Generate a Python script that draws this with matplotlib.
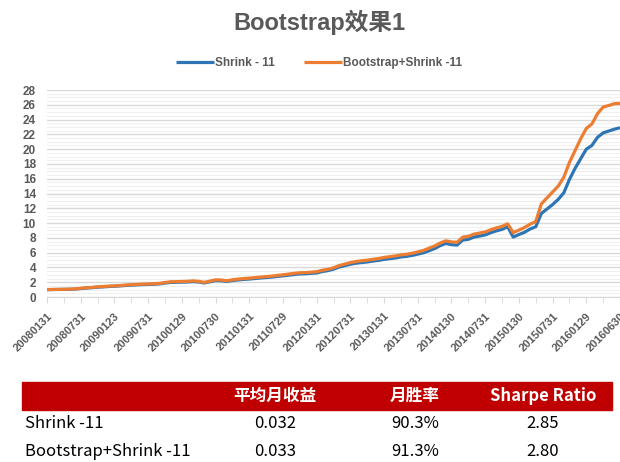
import matplotlib
matplotlib.use("Agg")
import matplotlib.pyplot as plt
from matplotlib.patches import Rectangle
from matplotlib.ticker import MultipleLocator

plt.rcParams['font.family'] = ['Liberation Sans', 'Noto Sans CJK SC', 'DejaVu Sans']

# month-end series, Jan 2008 .. Jun 2016 (103 points)
shrink = [1.00, 1.01, 1.02, 1.03, 1.04, 1.07, 1.14, 1.21, 1.26, 1.33,
          1.37, 1.42, 1.45, 1.50, 1.56, 1.60, 1.64, 1.68, 1.70, 1.73,
          1.77, 1.88, 1.97, 1.99, 2.01, 2.03, 2.08, 2.03, 1.90, 2.06,
          2.22, 2.20, 2.10, 2.22, 2.31, 2.38, 2.43, 2.50, 2.57, 2.63,
          2.69, 2.78, 2.86, 2.95, 3.04, 3.12, 3.14, 3.20, 3.25, 3.44,
          3.57, 3.76, 4.05, 4.24, 4.43, 4.57, 4.66, 4.74, 4.86, 4.95,
          5.09, 5.18, 5.28, 5.42, 5.50, 5.63, 5.80, 5.98, 6.26, 6.55,
          6.95, 7.25, 7.08, 7.02, 7.70, 7.80, 8.10, 8.25, 8.40, 8.70,
          8.95, 9.15, 9.50, 8.10, 8.45, 8.75, 9.20, 9.50, 11.30, 11.90,
          12.50, 13.20, 14.10, 15.90, 17.40, 18.70, 20.00, 20.50, 21.60, 22.20,
          22.45, 22.70, 22.90]
boot = [1.00, 1.02, 1.03, 1.05, 1.06, 1.10, 1.18, 1.25, 1.30, 1.38,
        1.42, 1.47, 1.50, 1.55, 1.62, 1.66, 1.70, 1.74, 1.76, 1.80,
        1.84, 1.96, 2.06, 2.08, 2.10, 2.12, 2.18, 2.12, 1.98, 2.15,
        2.32, 2.30, 2.20, 2.32, 2.42, 2.50, 2.55, 2.62, 2.70, 2.76,
        2.82, 2.92, 3.00, 3.10, 3.20, 3.28, 3.30, 3.36, 3.42, 3.62,
        3.75, 3.95, 4.25, 4.45, 4.65, 4.80, 4.90, 4.98, 5.10, 5.20,
        5.35, 5.45, 5.55, 5.70, 5.78, 5.92, 6.10, 6.30, 6.60, 6.90,
        7.30, 7.60, 7.45, 7.40, 8.10, 8.20, 8.50, 8.65, 8.80, 9.10,
        9.35, 9.55, 9.90, 8.70, 9.05, 9.40, 9.85, 10.20, 12.60, 13.40,
        14.20, 15.00, 16.20, 18.20, 19.80, 21.40, 22.80, 23.40, 24.80, 25.70,
        25.90, 26.15, 26.20]
tick_labels = ['20080131', '20080731', '20090123', '20090731', '20100129', '20100730',
               '20110131', '20110729', '20120131', '20120731', '20130131', '20130731',
               '20140130', '20140731', '20150130', '20150731', '20160129', '20160630']

table_cols = ['平均月收益', '月胜率', 'Sharpe Ratio']
table_rows = ['Shrink -11', 'Bootstrap+Shrink -11']
table_vals = [['0.032', '90.3%', '2.85'],
              ['0.033', '91.3%', '2.80']]

gray = '#595959'
fig = plt.figure(figsize=(6.2, 4.62), dpi=100)
ax = fig.add_axes([47/620, 1-297/462, 573/620, 207/462])

x = list(range(len(shrink)))
ax.plot(x, shrink, color='#2E75B6', lw=2.3, label='Shrink - 11', solid_capstyle='butt')
ax.plot(x, boot, color='#ED7D31', lw=2.3, label='Bootstrap+Shrink -11', solid_capstyle='butt')

ax.set_xlim(0, len(x) - 1)
ax.set_ylim(0, 28)
ax.yaxis.set_major_locator(MultipleLocator(2))
ax.yaxis.set_minor_locator(MultipleLocator(0.5))
ax.grid(True, which='major', axis='y', color='#D9D9D9', lw=1)
ax.grid(True, which='minor', axis='y', color='#F0F0F0', lw=0.8)
ax.set_axisbelow(True)

ax.set_xticks(range(0, len(x), 6))
ax.set_xticklabels(tick_labels, rotation=45, ha='right', rotation_mode='anchor',
                   fontsize=8, fontweight='bold', color=gray)
ax.set_xticks(range(0, len(x), 3), minor=True)
ax.tick_params(axis='x', which='both', length=4, color='#D9D9D9', pad=6)
ax.tick_params(axis='y', which='both', length=0, labelsize=8.5, labelcolor=gray, pad=8)
for lab in ax.get_yticklabels():
    lab.set_fontweight('bold')

for s in ['top', 'right', 'left']:
    ax.spines[s].set_visible(False)
ax.spines['bottom'].set_color('#D9D9D9')

fig.text(0.515, 0.952, 'Bootstrap效果1', ha='center', va='center',
         fontsize=17, fontweight='bold', color=gray)
leg = fig.legend(loc='center', bbox_to_anchor=(0.515, 1-63/462), ncol=2, frameon=False,
                 fontsize=8.5, handlelength=3.2, columnspacing=2.5, handletextpad=0.1)
for t in leg.get_texts():
    t.set_color(gray)
    t.set_fontweight('bold')

# summary table below the chart
fig.patches.append(Rectangle((22/620, 1-410/462), 590/620, 28/462,
                             transform=fig.transFigure, color='#C00000', zorder=0))
col_x = [275/620, 415/620, 543/620]
for cx, name in zip(col_x, table_cols):
    fig.text(cx, 1-396/462, name, ha='center', va='center', color='white',
             fontsize=12, fontweight='bold', family=['Noto Sans CJK SC', 'DejaVu Sans'])
row_y = [1-424/462, 1-452/462]
for ry, name, vals in zip(row_y, table_rows, table_vals):
    fig.text(25/620, ry, name, ha='left', va='center', color='black',
             fontsize=12, family=['Noto Sans CJK SC', 'DejaVu Sans'])
    for cx, v in zip(col_x, vals):
        fig.text(cx, ry, v, ha='center', va='center', color='black',
                 fontsize=12, family=['Noto Sans CJK SC', 'DejaVu Sans'])

fig.savefig('out.png', dpi=100)
